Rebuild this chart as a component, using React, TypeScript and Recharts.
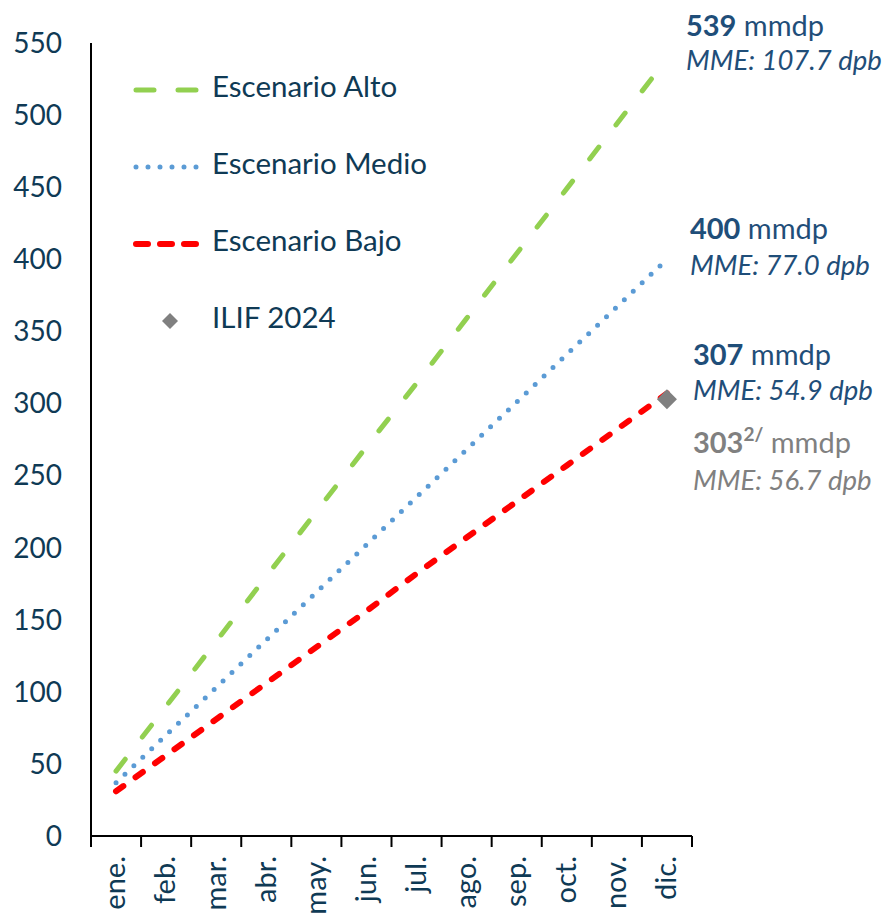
import React from 'react';
import { LineChart, Line, XAxis, YAxis, LabelList } from 'recharts';

const months = ['ene.', 'feb.', 'mar.', 'abr.', 'may.', 'jun.', 'jul.', 'ago.', 'sep.', 'oct.', 'nov.', 'dic.'];
const alto = [45, 90, 135, 180, 225, 270, 314, 359, 404, 449, 494, 539];
const medio = [37, 70, 103, 136, 169, 202, 235, 268, 301, 334, 367, 400];
const bajo = [31, 56, 81, 106, 131, 156, 182, 207, 232, 257, 282, 307];
const ilif = [null, null, null, null, null, null, null, null, null, null, null, 303];
const yTicks = [0, 50, 100, 150, 200, 250, 300, 350, 400, 450, 500, 550];

const endLabels = {
    alto: { num: '539', sup: '', mme: 'MME: 107.7 dpb' },
    medio: { num: '400', sup: '', mme: 'MME: 77.0 dpb' },
    bajo: { num: '307', sup: '', mme: 'MME: 54.9 dpb' },
    ilif: { num: '303', sup: '2/', mme: 'MME: 56.7 dpb' },
};

const data = months.map((m, i) => ({
    x: i + 0.5,
    month: m,
    alto: alto[i],
    medio: medio[i],
    bajo: bajo[i],
    ilif: ilif[i],
}));

const W = 887;
const H = 916;
const MARGIN = { top: 43, right: 195, left: 0, bottom: 0 };
const Y_W = 91;
const BAND = (W - MARGIN.right - MARGIN.left - Y_W) / months.length;

const FONT = 'Lato, "Open Sans", sans-serif';
const TXT = '#0f3a55';
const NAVY = '#1f4e79';
const GREY = '#808080';

const makeEnd = (key: keyof typeof endLabels, color: string, dx: number, dy1: number, dy2: number) => (props: any) => {
    const { x, y, index } = props;
    if (index !== months.length - 1) return null;
    const l = endLabels[key];
    return (
        <g fontFamily={FONT} fill={color}>
            <text x={x + dx} y={y + dy1} dominantBaseline="middle" fontSize={29}>
                <tspan fontWeight={700}>{l.num}</tspan>
                {l.sup ? <tspan fontSize={19} dy={-10} fontWeight={700}>{l.sup}</tspan> : null}
                <tspan dy={l.sup ? 10 : 0}> mmdp</tspan>
            </text>
            <text x={x + dx} y={y + dy2} dominantBaseline="middle" fontStyle="italic" fontSize={27.5}>{l.mme}</text>
        </g>
    );
};

// ticks sit on the month boundaries, label goes in the middle of the band
const MonthTick = (props: any) => {
    const { x, y, payload } = props;
    const i = Math.round(payload.value);
    if (i >= months.length) return null;
    const cx = x + BAND / 2 + 2;
    return (
        <text x={cx} y={y} transform={`rotate(-90 ${cx} ${y})`} textAnchor="end" dominantBaseline="middle"
            fontFamily={FONT} fontSize={29} fill={TXT}>
            {months[i]}
        </text>
    );
};

const Diamond = (props: any) => {
    const { cx, cy, value } = props;
    if (value == null || cx == null) return null;
    const r = 10;
    return <polygon points={`${cx},${cy - r} ${cx + r},${cy} ${cx},${cy + r} ${cx - r},${cy}`} fill={GREY} />;
};

const legendItems = [
    { name: 'Escenario Alto', type: 'alto' },
    { name: 'Escenario Medio', type: 'medio' },
    { name: 'Escenario Bajo', type: 'bajo' },
    { name: 'ILIF 2024', type: 'ilif' },
];

const LegendBox = () => (
    <svg width={380} height={300} style={{ position: 'absolute', left: 130, top: 70 }}>
        {legendItems.map((it, i) => {
            const cy = 20 + i * 77;
            let sample: React.ReactNode = null;
            if (it.type === 'alto') sample = <line x1={6} x2={68} y1={cy} y2={cy} stroke="#92d050" strokeWidth={5} strokeLinecap="round" strokeDasharray="18 24" />;
            if (it.type === 'medio') sample = <line x1={6} x2={70} y1={cy} y2={cy} stroke="#5b9bd5" strokeWidth={5} strokeLinecap="round" strokeDasharray="0 12" />;
            if (it.type === 'bajo') sample = <line x1={6} x2={68} y1={cy} y2={cy} stroke="#ff0000" strokeWidth={6} strokeLinecap="round" strokeDasharray="12 12" />;
            if (it.type === 'ilif') sample = <polygon points={`40,${cy - 8} 48,${cy} 40,${cy + 8} 32,${cy}`} fill={GREY} />;
            return (
                <g key={it.type}>
                    {sample}
                    <text x={82} y={cy} dominantBaseline="middle" fontFamily={FONT} fontSize={29.5} fill={TXT}>{it.name}</text>
                </g>
            );
        })}
    </svg>
);

export default function App() {
    return (
        <div style={{ position: 'absolute', left: 0, top: 0, width: W, height: H, background: '#fff' }}>
            <LineChart width={W} height={H} data={data} margin={MARGIN}>
                <XAxis
                    dataKey="x"
                    type="number"
                    domain={[0, 12]}
                    ticks={[0, 1, 2, 3, 4, 5, 6, 7, 8, 9, 10, 11, 12]}
                    height={80}
                    tickSize={11}
                    tickMargin={9}
                    tick={<MonthTick />}
                    axisLine={{ stroke: '#000', strokeWidth: 2 }}
                    tickLine={{ stroke: '#000', strokeWidth: 2 }}
                    interval={0}
                />
                <YAxis
                    domain={[0, 550]}
                    ticks={yTicks}
                    width={Y_W}
                    tickLine={false}
                    tickSize={0}
                    tickMargin={29}
                    axisLine={{ stroke: '#000', strokeWidth: 2 }}
                    tick={{ fontFamily: FONT, fontSize: 28, fill: TXT }}
                    interval={0}
                />
                <Line dataKey="alto" name="Escenario Alto" stroke="#92d050" strokeWidth={5} strokeLinecap="round"
                    strokeDasharray="15 28" dot={false} isAnimationActive={false}>
                    <LabelList dataKey="alto" content={makeEnd('alto', NAVY, 19, -30, 4)} />
                </Line>
                <Line dataKey="medio" name="Escenario Medio" stroke="#5b9bd5" strokeWidth={5} strokeLinecap="round"
                    strokeDasharray="0 12.3" dot={false} isAnimationActive={false}>
                    <LabelList dataKey="medio" content={makeEnd('medio', NAVY, 23, -27, 9)} />
                </Line>
                <Line dataKey="bajo" name="Escenario Bajo" stroke="#ff0000" strokeWidth={6} strokeLinecap="round"
                    strokeDasharray="9 15" dot={false} isAnimationActive={false}>
                    <LabelList dataKey="bajo" content={makeEnd('bajo', NAVY, 26, -35, 0)} />
                </Line>
                <Line dataKey="ilif" name="ILIF 2024" stroke="none" dot={<Diamond />} activeDot={false}
                    isAnimationActive={false}>
                    <LabelList dataKey="ilif" content={makeEnd('ilif', GREY, 26, 47, 84)} />
                </Line>
            </LineChart>
            <LegendBox />
        </div>
    );
}
